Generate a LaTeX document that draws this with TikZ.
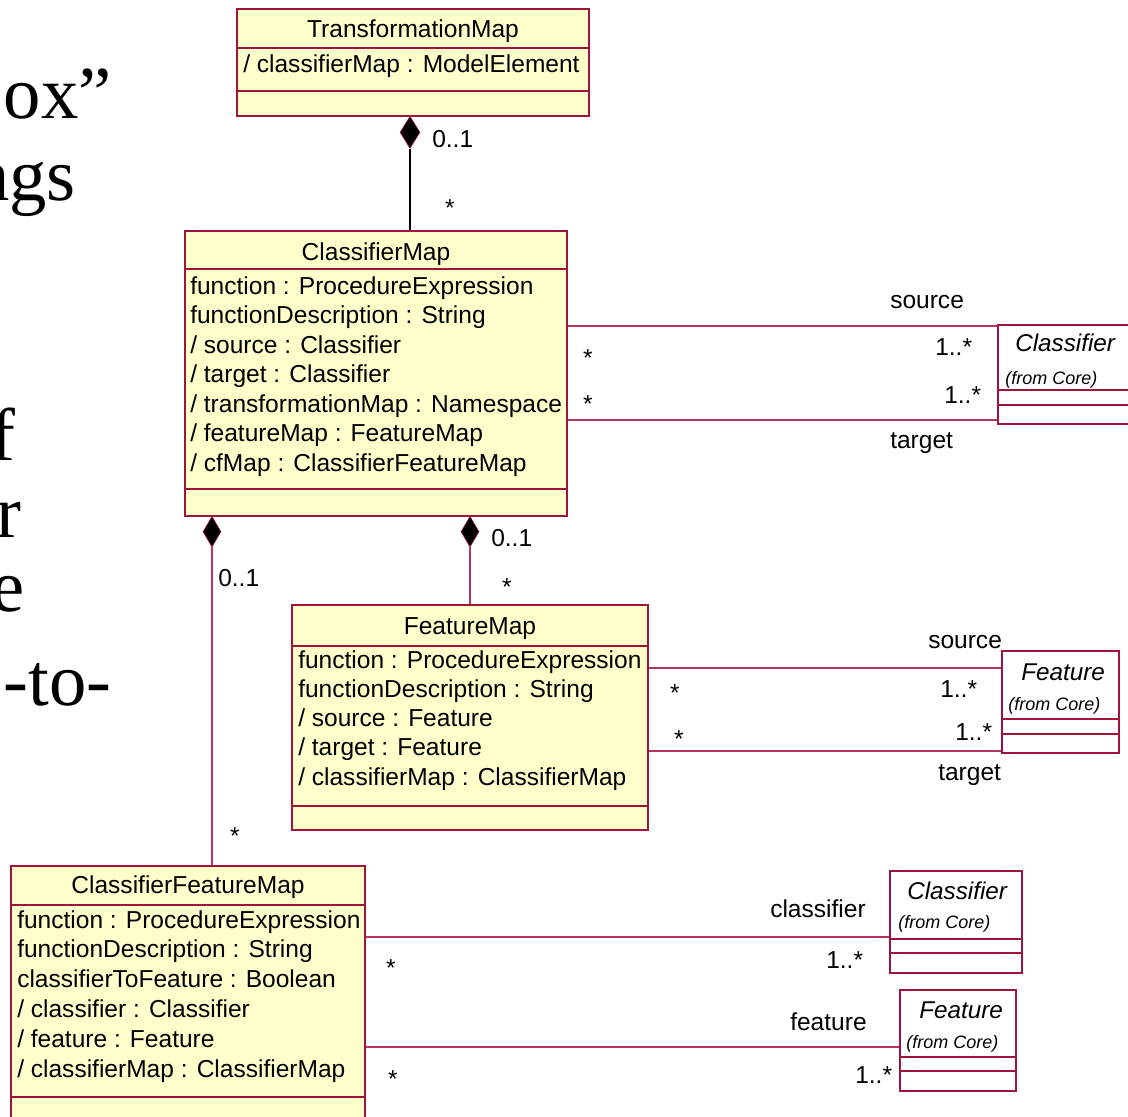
\documentclass[tikz,border=0pt]{standalone}
\usepackage{fontspec}
\setmainfont{Liberation Sans}
\newfontfamily\slidefont{Liberation Serif}
\usetikzlibrary{shapes.geometric,fit}

\definecolor{umlborder}{RGB}{160,20,60}
\definecolor{umlline}{RGB}{182,52,96}
\definecolor{umlfill}{RGB}{255,255,204}

\tikzset{
  classbox/.style={draw=umlborder, fill=umlfill, line width=0.9pt, inner sep=0pt},
  refbox/.style={draw=umlborder, fill=white, line width=0.9pt, inner sep=0pt},
  sepline/.style={draw=umlborder, line width=0.8pt},
  assoc/.style={draw=umlline, line width=0.8pt},
  compA/.style={diamond, draw=umlborder, fill=black, line width=0.5pt, inner sep=0pt,
                minimum width=15pt, minimum height=24pt},
  compB/.style={diamond, draw=umlborder, fill=black, line width=0.5pt, inner sep=0pt,
                minimum width=13.5pt, minimum height=23pt},
  txt/.style={inner sep=0pt, font=\fontsize{18.4}{22}\selectfont},
  title/.style={txt, anchor=base},
  attr/.style={txt, anchor=base west},
  lbl/.style={txt, anchor=base west},
  star/.style={txt, anchor=base},
  refname/.style={inner sep=0pt, anchor=base west, font=\fontsize{18.2}{22}\selectfont\itshape},
  refpkg/.style={inner sep=0pt, anchor=base west, font=\fontsize{13.5}{16}\selectfont\itshape},
  slide/.style={inner sep=0pt, anchor=base east, font=\slidefont\fontsize{56}{64}\selectfont}
}

\begin{document}
\begin{tikzpicture}[x=0.75pt,y=-0.75pt]
\useasboundingbox[fill=white] (0,0) rectangle (1128,1117);

% fragments of the slide text on the left
\node[slide] (s1) at (112,118) {ox”};
\node[slide] (s2) at (76,200) {ngs};
\node[slide] (s3) at (16,460) {f};
\node[slide] (s4) at (22,537) {r};
\node[slide] (s5) at (25,611) {e};
\node[slide] (s6) at (112,705) {-to-};

% ---------- TransformationMap ----------
\node[classbox, fit={(237,9) (589,116)}] (tm) {};
\draw[sepline] (tm.west |- 0,48) -- (tm.east |- 0,48);
\draw[sepline] (tm.west |- 0,91) -- (tm.east |- 0,91);
\node[title] (tmT) at (413,37) {TransformationMap};
\node[attr] (tmA) at (243,72) {/ classifierMap : ModelElement};

% ---------- ClassifierMap ----------
\node[classbox, fit={(185,231) (567,516)}] (cm) {};
\draw[sepline] (cm.west |- 0,269) -- (cm.east |- 0,269);
\draw[sepline] (cm.west |- 0,489) -- (cm.east |- 0,489);
\node[title] (cmT) at (376,260) {ClassifierMap};
\foreach \t [count=\i] in {function : ProcedureExpression,
    functionDescription : String, / source : Classifier, / target : Classifier,
    / transformationMap : Namespace, / featureMap : FeatureMap,
    / cfMap : ClassifierFeatureMap}
  \node[attr] (cmA\i) at (190,{294+29.5*(\i-1)}) {\t};

% ---------- FeatureMap ----------
\node[classbox, fit={(292,605) (648,830)}] (fm) {};
\draw[sepline] (fm.west |- 0,646) -- (fm.east |- 0,646);
\draw[sepline] (fm.west |- 0,806) -- (fm.east |- 0,806);
\node[title] (fmT) at (470,634) {FeatureMap};
\foreach \t [count=\i] in {function : ProcedureExpression,
    functionDescription : String, / source : Feature, / target : Feature,
    / classifierMap : ClassifierMap}
  \node[attr] (fmA\i) at (298,{668+29.25*(\i-1)}) {\t};

% ---------- ClassifierFeatureMap ----------
\node[classbox, fit={(11,866) (365,1125)}] (cfm) {};
\draw[sepline] (cfm.west |- 0,905) -- (cfm.east |- 0,905);
\draw[sepline] (cfm.west |- 0,1097) -- (cfm.east |- 0,1097);
\node[title] (cfmT) at (188,893) {ClassifierFeatureMap};
\foreach \t [count=\i] in {function : ProcedureExpression,
    functionDescription : String, classifierToFeature : Boolean,
    / classifier : Classifier, / feature : Feature,
    / classifierMap : ClassifierMap}
  \node[attr] (cfmA\i) at (17,{928+29.8*(\i-1)}) {\t};

% ---------- referenced Core classes ----------
\node[refbox, fit={(998,325) (1135,424)}] (clsA) {};
\draw[sepline] (clsA.west |- 0,390) -- (clsA.east |- 0,390);
\draw[sepline] (clsA.west |- 0,405) -- (clsA.east |- 0,405);
\node[refname] (clsAn) at (1015,351) {Classifier};
\node[refpkg] (clsAp) at (1005,384) {(from Core)};

\node[refbox, fit={(1002,651) (1119,753)}] (featA) {};
\draw[sepline] (featA.west |- 0,719) -- (featA.east |- 0,719);
\draw[sepline] (featA.west |- 0,734) -- (featA.east |- 0,734);
\node[refname] (featAn) at (1021,680) {Feature};
\node[refpkg] (featAp) at (1008,710) {(from Core)};

\node[refbox, fit={(890,871) (1022,973)}] (clsB) {};
\draw[sepline] (clsB.west |- 0,939) -- (clsB.east |- 0,939);
\draw[sepline] (clsB.west |- 0,953) -- (clsB.east |- 0,953);
\node[refname] (clsBn) at (907,899) {Classifier};
\node[refpkg] (clsBp) at (898,928) {(from Core)};

\node[refbox, fit={(900,990) (1016,1091)}] (featB) {};
\draw[sepline] (featB.west |- 0,1057) -- (featB.east |- 0,1057);
\draw[sepline] (featB.west |- 0,1071) -- (featB.east |- 0,1071);
\node[refname] (featBn) at (919,1018) {Feature};
\node[refpkg] (featBp) at (906,1048) {(from Core)};

% ---------- compositions ----------
\node[compA, anchor=north] (d0) at (410,116) {};
\draw[black, line width=0.8pt] (d0.south) -- (d0.south |- cm.north);
\node[lbl] (d0m1) at (432,147) {0..1};
\node[star] (d0m2) at (450,216) {*};

\node[compB, anchor=north] (d1) at (212,516) {};
\draw[assoc] (d1.south) -- (d1.south |- cfm.north);
\node[lbl] (d1m1) at (218,586) {0..1};
\node[star] (d1m2) at (235,844) {*};

\node[compB, anchor=north] (d2) at (470,516) {};
\draw[assoc] (d2.south) -- (d2.south |- fm.north);
\node[lbl] (d2m1) at (491,546) {0..1};
\node[star] (d2m2) at (507,595) {*};

% ---------- associations to Core ----------
\draw[assoc] (cm.east |- 0,326) -- (clsA.west |- 0,326);
\draw[assoc] (cm.east |- 0,420) -- (clsA.west |- 0,420);
\node[lbl] (cmSrc) at (890,308) {source};
\node[lbl] (cmTgt) at (890,448) {target};
\node[star] (cmS1) at (588,366) {*};
\node[star] (cmS2) at (588,412) {*};
\node[lbl] (cmM1) at (935,355) {1..*};
\node[lbl] (cmM2) at (944,403) {1..*};

\draw[assoc] (fm.east |- 0,668) -- (featA.west |- 0,668);
\draw[assoc] (fm.east |- 0,751) -- (featA.west |- 0,751);
\node[lbl] (fmSrc) at (928,648) {source};
\node[lbl] (fmTgt) at (938,780) {target};
\node[star] (fmS1) at (675,701) {*};
\node[star] (fmS2) at (679,747) {*};
\node[lbl] (fmM1) at (940,697) {1..*};
\node[lbl] (fmM2) at (955,740) {1..*};

\draw[assoc] (cfm.east |- 0,937) -- (clsB.west |- 0,937);
\draw[assoc] (cfm.east |- 0,1047) -- (featB.west |- 0,1047);
\node[lbl] (cfmCls) at (770,917) {classifier};
\node[lbl] (cfmFeat) at (790,1030) {feature};
\node[star] (cfmS1) at (391,976) {*};
\node[star] (cfmS2) at (393,1087) {*};
\node[lbl] (cfmM1) at (826,968) {1..*};
\node[lbl] (cfmM2) at (855,1083) {1..*};
\end{tikzpicture}
\end{document}
